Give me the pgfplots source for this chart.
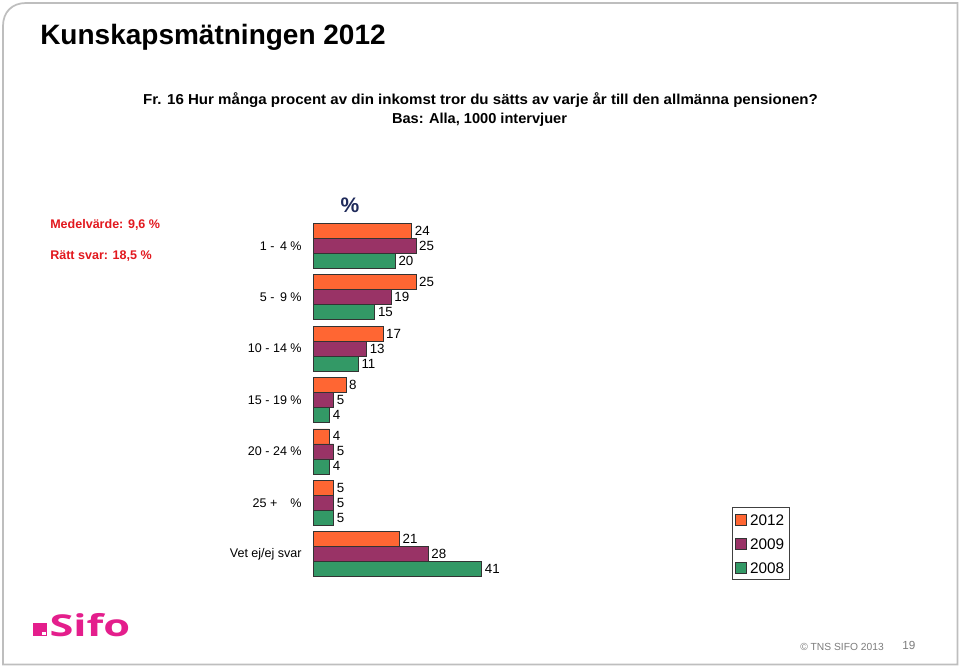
\documentclass[border=0pt]{standalone}
\usepackage{fontspec}
\setmainfont{Liberation Sans}
\newfontfamily\logofont{Open Sans}
\usepackage{graphicx}
\usepackage{pgfplots}
\pgfplotsset{compat=1.18}
\definecolor{c2012}{RGB}{255,102,51}
\definecolor{c2009}{RGB}{153,51,102}
\definecolor{c2008}{RGB}{51,153,102}
\definecolor{sred}{RGB}{226,24,30}
\definecolor{navy}{RGB}{31,42,90}
\definecolor{sifo}{RGB}{228,30,140}
\definecolor{bord}{RGB}{190,190,190}
\definecolor{foot}{RGB}{125,125,125}

\begin{document}
\begin{tikzpicture}[x=0.75pt,y=-0.75pt]
\fill[white] (0,0) rectangle (960,668);
\useasboundingbox (0,0) rectangle (960,668);
\draw[bord, line width=1.3pt] (957.5,664.5) -- (3,664.5) -- (3,26) .. controls (3,12) and (12,3) .. (26,3) -- (957.5,3) -- cycle;

% title
\node[anchor=base west, inner sep=0pt, font=\fontsize{21}{25}\selectfont\bfseries] at (40,44.7) {Kunskapsmätningen 2012};
% subtitle
\node[anchor=base, inner sep=0pt, font=\fontsize{10.8}{12}\selectfont\bfseries] at (480.5,104) {\resizebox{506pt}{\height}{Fr. 16 Hur många procent av din inkomst tror du sätts av varje år till den allmänna pensionen?}};
\node[anchor=base, inner sep=0pt, font=\fontsize{10.8}{12}\selectfont\bfseries] at (479.5,123) {\resizebox{131.25pt}{\height}{Bas: Alla, 1000 intervjuer}};

% red notes
\node[anchor=base west, inner sep=0pt, text=sred, font=\fontsize{9.4}{11}\selectfont\bfseries] at (50,228.5) {Medelvärde: 9,6 \%};
\node[anchor=base west, inner sep=0pt, text=sred, font=\fontsize{9.4}{11}\selectfont\bfseries] at (50,259.5) {Rätt svar: 18,5 \%};

% percent header
\node[anchor=base, inner sep=0pt, text=navy, font=\fontsize{15.75}{18}\selectfont\bfseries] at (350,212.3) {\%};

\begin{axis}[
  at={(234.75pt,-434.925pt)}, anchor=south west,
  scale only axis, width=138.75pt, height=269.85pt,
  xbar, bar width=0.2918,
  xmin=0, xmax=45, ymin=-0.5, ymax=6.5,
  axis line style={draw=none},
  xtick=\empty,
  ytick={0,1,2,3,4,5,6},
  yticklabels={Vet ej/ej svar, {25 +\hspace{9.75pt}\%}, 20 - 24 \%, 15 - 19 \%, 10 - 14 \%, 5 -\, 9 \%, 1 -\, 4 \%},
  major tick length=0pt,
  yticklabel style={font=\fontsize{9.4}{11}\selectfont, xshift=-5pt},
  /pgf/number format/assume math mode=true,
  nodes near coords,
  every node near coord/.append style={anchor=west, font=\fontsize{10}{11}\selectfont, inner xsep=2.3pt, text=black},
  legend style={at={(2.2632,0.2018)}, anchor=north west, draw=black!75, fill=white,
    font=\fontsize{11.5}{13}\selectfont, inner xsep=2.5pt, inner ysep=3.6pt,
    nodes={inner sep=1pt, text height=8.5pt, text depth=0pt},
    row sep=7.5pt, column sep=1.45pt, legend cell align=left},
  legend image code/.code={\draw[#1, draw=black!80, line width=0.4pt] (0pt,-4.125pt) rectangle (8.25pt,4.125pt);},
]
\addplot[fill=c2012, draw=black!80, line width=0.4pt, bar shift=0.2918] coordinates {(24,6) (25,5) (17,4) (8,3) (4,2) (5,1) (21,0)};
\addlegendentry{2012}
\addplot[fill=c2009, draw=black!80, line width=0.4pt, bar shift=0] coordinates {(25,6) (19,5) (13,4) (5,3) (5,2) (5,1) (28,0)};
\addlegendentry{2009}
\addplot[fill=c2008, draw=black!80, line width=0.4pt, bar shift=-0.2918] coordinates {(20,6) (15,5) (11,4) (4,3) (4,2) (5,1) (41,0)};
\addlegendentry{2008}
\end{axis}

% logo
\fill[sifo] (33.3,622.7) rectangle (46.7,636);
\fill[white] (42.3,631.6) rectangle (46.1,635.4);
\node[anchor=base west, inner sep=0pt, text=sifo] at (49.3,636) {\resizebox{60.5pt}{17.3pt}{\logofont\bfseries Sifo}};

% footer
\node[anchor=base west, inner sep=0pt, text=foot, font=\fontsize{7.7}{9}\selectfont] at (800,650.7) {© TNS SIFO 2013};
\node[anchor=base west, inner sep=0pt, text=foot, font=\fontsize{8.8}{10}\selectfont] at (902,649.3) {19};
\end{tikzpicture}
\end{document}
